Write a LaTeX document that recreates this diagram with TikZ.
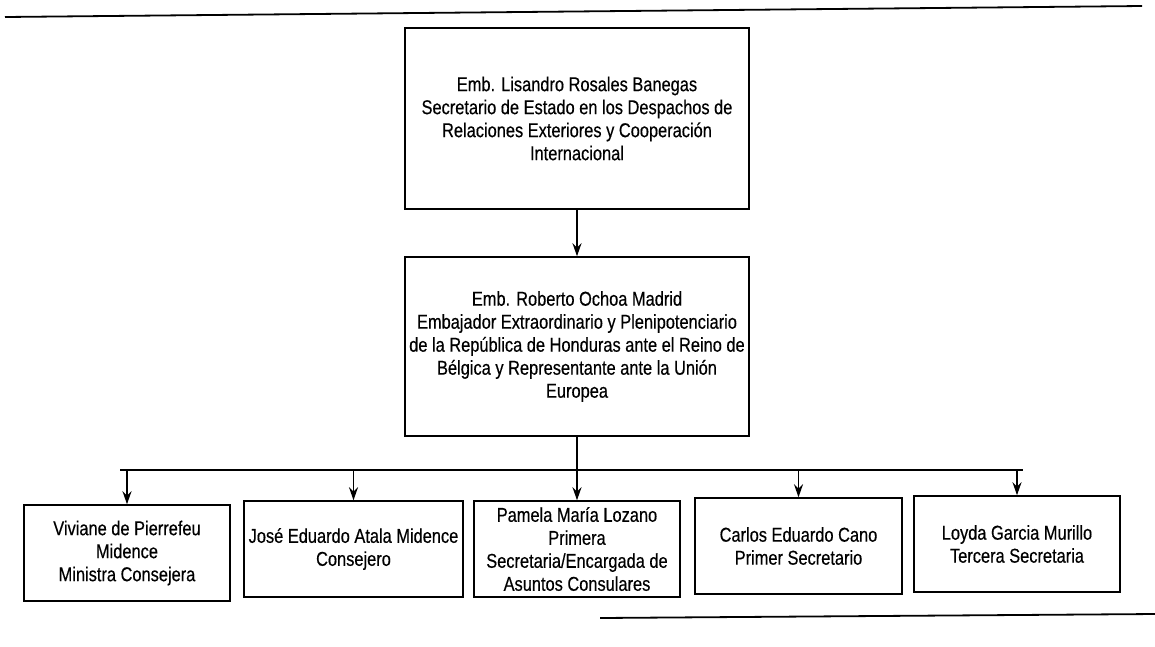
\documentclass[tikz,border=0pt]{standalone}
\usepackage{fontspec}
\setmainfont{Liberation Sans}[FakeStretch=0.82,FakeBold=0.4]
\usetikzlibrary{arrows.meta,positioning}
\tikzset{
box/.style={draw, line width=1.5pt, align=center, inner sep=0pt},
childbox/.style={box, minimum height=96pt},
arr/.style={-{Stealth[length=13pt,width=9pt]}, line width=1.5pt},
bus/.style={line width=1.5pt},
pagerule/.style={line width=1.8pt},
}
\tikzstyle{every node}=[font=\fontsize{20}{23}\selectfont]

\begin{document}
\begin{tikzpicture}[x=1pt,y=-1pt]
    \useasboundingbox (0,0) rectangle (1155,646);
    \draw[pagerule] (5,17) -- (1142,6);
    \draw[pagerule] (600,618) -- (1155,614);

    \node[box, minimum width=344pt, minimum height=181pt] (secretario) at (577,118.5)
        {Emb. Lisandro Rosales Banegas\\Secretario de Estado en los Despachos de\\Relaciones Exteriores y Cooperación\\Internacional};
    \node[box, minimum width=344pt, minimum height=179pt] (embajador) at (577,346.5)
        {Emb. Roberto Ochoa Madrid\\Embajador Extraordinario y Plenipotenciario\\de la República de Honduras ante el Reino de\\Bélgica y Representante ante la Unión\\Europea};

    \node[childbox, minimum width=206pt] (viviane) at (127,553)
        {Viviane de Pierrefeu\\Midence\\Ministra Consejera};
    \node[childbox, minimum width=219pt] (jose) at (353.5,549)
        {José Eduardo Atala Midence\\Consejero};
    \node[childbox, minimum width=206pt] (pamela) at (577,549)
        {Pamela María Lozano\\Primera\\Secretaria/Encargada de\\Asuntos Consulares};
    \node[childbox, minimum width=207pt] (carlos) at (798.5,546)
        {Carlos Eduardo Cano\\Primer Secretario};
    \node[childbox, minimum width=206pt] (loyda) at (1017,544)
        {Loyda Garcia Murillo\\Tercera Secretaria};

    \coordinate (busL) at (120,470);
    \coordinate (busR) at (1023,470);

    \draw[arr] (secretario) -- (embajador);
    \draw[arr] (embajador) -- (pamela);
    \draw[bus] (busL) -- (busR);
    \foreach \n in {viviane,jose,carlos,loyda}
        \draw[arr] (\n.north |- busL) -- (\n);
\end{tikzpicture}
\end{document}
